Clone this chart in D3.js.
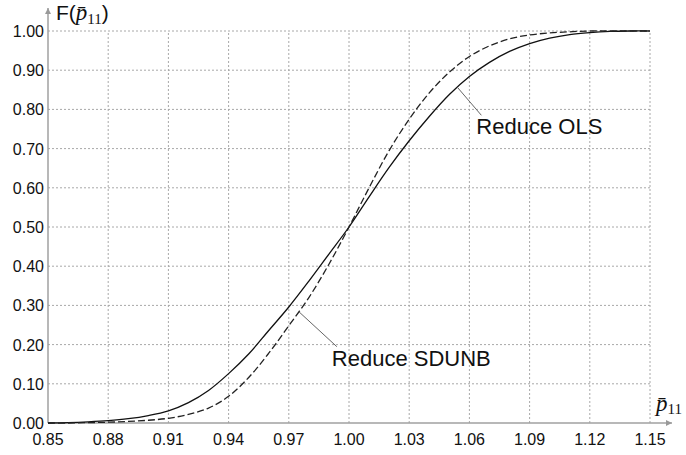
<!DOCTYPE html>
<html lang="en">
<head>
<meta charset="utf-8">
<title>Reduce OLS vs Reduce SDUNB</title>
<script src="https://d3js.org/d3.v7.min.js"></script>
<style>
  body { margin: 0; background: #fff; }
  svg { display: block; }
  text { font-family: "Liberation Sans", Arial, sans-serif; fill: #111; }
</style>
</head>
<body>
<div id="chart"></div>
<script>
  // data
  var xTicks = [0.85, 0.88, 0.91, 0.94, 0.97, 1.00, 1.03, 1.06, 1.09, 1.12, 1.15];
  var yTicks = [0.0, 0.1, 0.2, 0.3, 0.4, 0.5, 0.6, 0.7, 0.8, 0.9, 1.0];
  var pValues = [0.85, 0.86, 0.87, 0.88, 0.89, 0.90, 0.91, 0.92, 0.93, 0.94,
                 0.95, 0.96, 0.97, 0.98, 0.99, 1.00, 1.01, 1.02, 1.03, 1.04,
                 1.05, 1.06, 1.07, 1.08, 1.09, 1.10, 1.11, 1.12, 1.13, 1.14, 1.15];
  var olsF = [0.000, 0.001, 0.003, 0.006, 0.011, 0.019, 0.031, 0.052, 0.083, 0.126,
              0.176, 0.236, 0.296, 0.362, 0.431, 0.500, 0.577, 0.652, 0.720, 0.782,
              0.838, 0.884, 0.920, 0.948, 0.968, 0.982, 0.991, 0.996, 0.999, 1.000, 1.000];
  var sdunbF = [0.000, 0.000, 0.001, 0.002, 0.004, 0.007, 0.012, 0.022, 0.038, 0.068,
                0.116, 0.178, 0.248, 0.320, 0.405, 0.500, 0.600, 0.695, 0.775, 0.842,
                0.895, 0.935, 0.962, 0.980, 0.990, 0.995, 0.998, 1.000, 1.000, 1.000, 1.000];
  var labels = ["Reduce OLS", "Reduce SDUNB"];
  var labelAt = [1.054, 0.975];

  var width = 686;
  var height = 455;

  var svg = d3.select("#chart")
    .append("svg")
    .attr("width", width)
    .attr("height", height);

  var x = d3.scaleLinear().domain([0.85, 1.15]).range([48, 650]);
  var y = d3.scaleLinear().domain([0, 1]).range([423, 31]);

  // grid
  svg.append("g").selectAll("line")
    .data(xTicks.slice(1))
    .enter().append("line")
    .attr("x1", function(d) { return x(d); })
    .attr("x2", function(d) { return x(d); })
    .attr("y1", y(0))
    .attr("y2", y(1))
    .attr("stroke", "#a8a8a8")
    .attr("stroke-width", 1)
    .attr("stroke-dasharray", "2,2");

  svg.append("g").selectAll("line")
    .data(yTicks.slice(1))
    .enter().append("line")
    .attr("x1", x(0.85))
    .attr("x2", x(1.15))
    .attr("y1", function(d) { return y(d); })
    .attr("y2", function(d) { return y(d); })
    .attr("stroke", "#a8a8a8")
    .attr("stroke-width", 1)
    .attr("stroke-dasharray", "2,2");

  // axes with arrows
  svg.append("defs").append("marker")
    .attr("id", "arrow")
    .attr("viewBox", "0 0 10 10")
    .attr("refX", 10).attr("refY", 5)
    .attr("markerWidth", 7).attr("markerHeight", 6)
    .attr("markerUnits", "userSpaceOnUse")
    .attr("orient", "auto")
    .append("path")
    .attr("d", "M0,0L10,5L0,10z")
    .attr("fill", "#999");

  svg.append("line")
    .attr("x1", x(0.85)).attr("x2", x(0.85))
    .attr("y1", y(0)).attr("y2", 8)
    .attr("stroke", "#a0a0a0").attr("stroke-width", 1.5)
    .attr("marker-end", "url(#arrow)");

  svg.append("line")
    .attr("x1", x(0.85)).attr("x2", 672)
    .attr("y1", y(0)).attr("y2", y(0))
    .attr("stroke", "#a0a0a0").attr("stroke-width", 1.5)
    .attr("marker-end", "url(#arrow)");

  // tick labels
  svg.append("g").selectAll("text")
    .data(yTicks)
    .enter().append("text")
    .attr("x", 44)
    .attr("y", function(d) { return y(d) + 6; })
    .attr("text-anchor", "end")
    .attr("font-size", "16px")
    .text(function(d) { return d3.format(".2f")(d); });

  svg.append("g").selectAll("text")
    .data(xTicks)
    .enter().append("text")
    .attr("x", function(d) { return x(d); })
    .attr("y", 445)
    .attr("text-anchor", "middle")
    .attr("font-size", "16px")
    .text(function(d) { return d3.format(".2f")(d); });

  // axis titles
  var yt = svg.append("text")
    .attr("x", 56)
    .attr("y", 20)
    .attr("font-size", "21px");
  yt.append("tspan").text("F(");
  yt.append("tspan")
    .style("font-family", "'Liberation Serif', 'Times New Roman', serif")
    .style("font-style", "italic")
    .attr("font-size", "23px")
    .text("p\u0304");
  yt.append("tspan")
    .style("font-family", "'Liberation Serif', 'Times New Roman', serif")
    .attr("font-size", "15px")
    .attr("dy", 4)
    .text("11");
  yt.append("tspan").attr("dy", -4).text(")");

  var xt = svg.append("text")
    .attr("x", 656)
    .attr("y", 411)
    .style("font-family", "'Liberation Serif', 'Times New Roman', serif");
  xt.append("tspan")
    .style("font-style", "italic")
    .attr("font-size", "23px")
    .text("p\u0304");
  xt.append("tspan")
    .attr("font-size", "15px")
    .attr("dy", 3)
    .text("11");

  // curves
  var ols = pValues.map(function(p, i) { return [p, olsF[i]]; });
  var sdunb = pValues.map(function(p, i) { return [p, sdunbF[i]]; });

  var line = d3.line()
    .x(function(d) { return x(d[0]); })
    .y(function(d) { return y(d[1]); })
    .curve(d3.curveCatmullRom.alpha(0.5));

  svg.append("path")
    .datum(ols)
    .attr("d", line)
    .attr("fill", "none")
    .attr("stroke", "#111")
    .attr("stroke-width", 1.3);

  svg.append("path")
    .datum(sdunb)
    .attr("d", line)
    .attr("fill", "none")
    .attr("stroke", "#222")
    .attr("stroke-width", 1.3)
    .attr("stroke-dasharray", "7,3");

  // annotations
  function valueAt(series, p) {
    return d3.scaleLinear().domain(pValues).range(series)(p);
  }
  var anchors = [
    { text: labels[0], px: x(labelAt[0]), py: y(valueAt(olsF, labelAt[0])), dx: 24, dy: 28 },
    { text: labels[1], px: x(labelAt[1]), py: y(valueAt(sdunbF, labelAt[1])), dx: 38, dy: 35 }
  ];

  svg.append("g").selectAll("line")
    .data(anchors)
    .enter().append("line")
    .attr("x1", function(d) { return d.px; })
    .attr("y1", function(d) { return d.py; })
    .attr("x2", function(d) { return d.px + d.dx; })
    .attr("y2", function(d) { return d.py + d.dy; })
    .attr("stroke", "#666")
    .attr("stroke-width", 1);

  svg.append("g").selectAll("text")
    .data(anchors)
    .enter().append("text")
    .attr("x", function(d) { return d.px + d.dx - 5; })
    .attr("y", function(d) { return d.py + d.dy + 19; })
    .attr("font-size", "22px")
    .text(function(d) { return d.text; });
</script>
</body>
</html>
